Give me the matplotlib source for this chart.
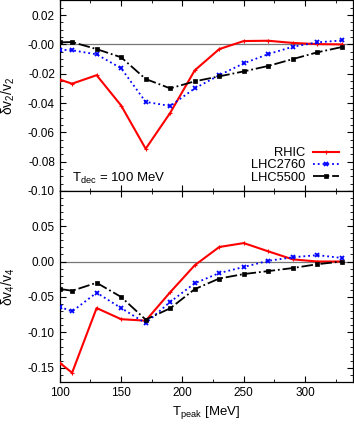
import matplotlib
matplotlib.use('Agg')
from matplotlib import pyplot as plt
from matplotlib.ticker import MultipleLocator

plt.rcParams['font.family'] = ['Liberation Sans', 'DejaVu Sans']
plt.rcParams['mathtext.fontset'] = 'custom'
plt.rcParams['mathtext.rm'] = 'Liberation Sans'
plt.rcParams['mathtext.it'] = 'Liberation Sans'
plt.rcParams['mathtext.default'] = 'regular'

# peak temperature grid
t_peak = [100, 110, 130, 150, 170, 190, 210, 230, 250, 270, 290, 310, 330]

# delta v2 / v2
v2_rhic = [-0.024, -0.0268, -0.021, -0.0417, -0.0712, -0.0467, -0.0177,
           -0.0032, 0.0023, 0.0025, 0.001, 0.0002, 0.0]
v2_lhc2760 = [-0.0036, -0.004, -0.0068, -0.0163, -0.0392, -0.042, -0.030,
              -0.021, -0.0129, -0.0066, -0.0016, 0.0014, 0.0027]
v2_lhc5500 = [0.0014, 0.0016, -0.0032, -0.0088, -0.0236, -0.030, -0.0252,
              -0.0218, -0.0184, -0.0147, -0.010, -0.0054, -0.0018]

# delta v4 / v4
v4_rhic = [-0.143, -0.157, -0.0657, -0.0814, -0.0835, -0.0433, -0.0053,
           0.0205, 0.026, 0.0143, 0.003, 0.0, 0.0]
v4_lhc2760 = [-0.064, -0.0705, -0.044, -0.0657, -0.087, -0.057, -0.0307,
              -0.0163, -0.0077, 0.001, 0.006, 0.009, 0.005]
v4_lhc5500 = [-0.0387, -0.0413, -0.030, -0.050, -0.082, -0.066, -0.039,
              -0.024, -0.0177, -0.0135, -0.0092, -0.0038, 0.0]

labels = ['RHIC', 'LHC2760', 'LHC5500']
styles = [dict(color='#ff0000', ls='-', marker='+', ms=3, mew=0.8, lw=1.5),
          dict(color='#0000ff', ls=':', marker='x', ms=3, mew=1.3, lw=1.3),
          dict(color='black', ls='-.', marker='s', ms=2.2, mew=0.5, lw=1.3)]

fig = plt.figure(figsize=(3.54, 4.25), dpi=100)
ax1 = fig.add_axes([0.169, 0.5506, 0.828, 0.4484])
ax2 = fig.add_axes([0.169, 0.1012, 0.828, 0.4494])

for ax, series in ((ax1, (v2_rhic, v2_lhc2760, v2_lhc5500)),
                   (ax2, (v4_rhic, v4_lhc2760, v4_lhc5500))):
    ax.axhline(0, color='#777777', lw=0.9, zorder=1)
    for vals, lab, st in zip(series, labels, styles):
        ax.plot(t_peak, vals, label=lab, zorder=3, **st)
    ax.set_xlim(100, 339)
    ax.xaxis.set_major_locator(MultipleLocator(50))
    ax.xaxis.set_minor_locator(MultipleLocator(25))
    ax.tick_params(which='both', direction='in', top=True, right=True,
                   labelsize=8.5)
    ax.tick_params(which='major', length=4)
    ax.tick_params(which='minor', length=2)
    for s in ax.spines.values():
        s.set_linewidth(0.9)

ax1.set_ylim(-0.10, 0.03)
ax1.yaxis.set_major_locator(MultipleLocator(0.02))
ax1.yaxis.set_minor_locator(MultipleLocator(0.005))
ax1.yaxis.set_major_formatter(plt.FormatStrFormatter('%.2f'))
ax1.tick_params(labelbottom=False)
ax1.set_ylabel('$\\delta$v$_2$/v$_2$', fontsize=10)
ax1.text(110, -0.094, 'T$_{dec}$ = 100 MeV', fontsize=9.5)
ax1.legend(loc='lower right', bbox_to_anchor=(0.97, 0.01), frameon=False,
           markerfirst=False, fontsize=9.3, handlelength=2.0,
           labelspacing=0.03, borderaxespad=0, handletextpad=0.6)

ax2.set_ylim(-0.17, 0.0995)
ax2.yaxis.set_major_locator(MultipleLocator(0.05))
ax2.yaxis.set_minor_locator(MultipleLocator(0.01))
ax2.yaxis.set_major_formatter(plt.FormatStrFormatter('%.2f'))
ax2.set_ylabel('$\\delta$v$_4$/v$_4$', fontsize=10)
ax2.set_xlabel('T$_{peak}$ [MeV]', fontsize=9.5)

for ax in (ax1, ax2):
    ax.yaxis.set_label_coords(-0.145, 0.5)

fig.savefig('out.png', dpi=100)
